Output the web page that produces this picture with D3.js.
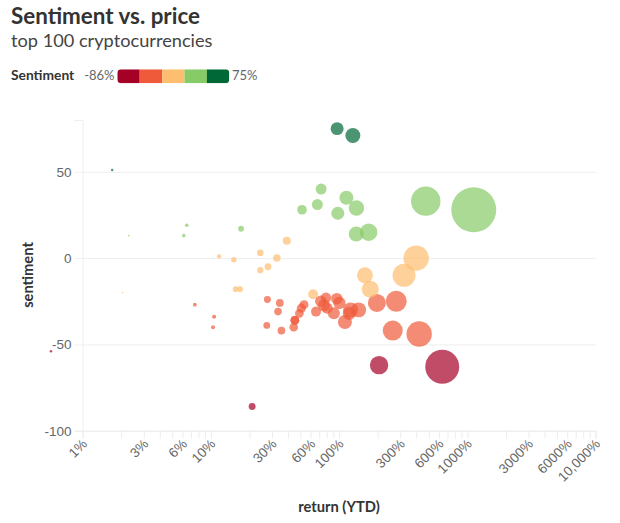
<!DOCTYPE html>
<html>
<head>
<meta charset="utf-8">
<script src="https://cdn.jsdelivr.net/npm/d3@7"></script>
<style>
  body { margin: 0; background: #fff; }
  svg { display: block; font-family: Lato, "Noto Sans", sans-serif; }
</style>
</head>
<body>
<svg id="chart"></svg>
<script>
// values
const returns = [1.7, 2.29, 2.05, 0.567, 6.49, 6.15, 17.2, 11.6, 15.1, 24.3, 32.7, 39.1, 27.9, 24.3, 15.6, 16.9,
  7.5, 10.6, 10.4, 27.6, 34.5, 33.4, 27.3, 35.5, 44.3, 45.1, 45.3, 49, 50.8, 53.3, 66.1, 62.7, 72, 79, 76.4, 80.6,
  91, 96, 100.5, 111, 123, 120, 142, 197, 279, 262, 421, 205, 637, 159, 175, 321, 399, 21,
  96.5, 128, 72.4, 114, 67.7, 51.4, 97.7, 136.5, 136, 170, 474, 1122];
const sentiments = [51, 13, -20, -54, 19, 13, 17, 1, -1, 3, 0, 10, -5, -7, -18, -18,
  -27, -34, -40, -24, -26, -31, -39, -42, -40, -36, -36, -32, -29, -27, -31, -21, -25, -23, -27.5, -29,
  -32, -23.5, -26, -37, -30, -32, -30, -26, -25, -42, -44, -62, -63, -10, -18, -10, 0, -86,
  75, 71, 40, 35, 31, 28, 26, 29, 14, 15, 33, 28];
const marketCaps = [1.5, 0.6, 0.6, 1.5, 3.2, 3.2, 8.4, 4.8, 7.3, 11, 14, 16, 11.6, 10, 8, 8,
  3.6, 4.4, 4, 12.2, 15, 14.4, 11.6, 15, 18, 20, 18, 19, 21, 20, 25, 25, 33, 27, 36, 31,
  36, 33, 38, 49, 56, 42, 56, 81, 110, 100, 161, 85, 289, 64, 72, 132, 161, 12,
  42, 56, 30, 49, 30, 23, 42, 59, 56, 76, 216, 506];

const xTickValues = [1, 2, 3, 4, 5, 6, 7, 8, 9, 10, 20, 30, 40, 50, 60, 70, 80, 90, 100,
  200, 300, 400, 500, 600, 700, 800, 900, 1000, 2000, 3000, 4000, 5000, 6000, 7000, 8000, 9000, 10000];
const xTickLabels = ['1%', '3%', '6%', '10%', '30%', '60%', '100%', '300%', '600%', '1000%', '3000%', '6000%', '10,000%'];
const yTickValues = [50, 0, -50, -100];
const sentimentColors = ['#a50026', '#ef5a3a', '#fdbe70', '#86cb66', '#006837'];
const sentimentRange = [-86, 75];

const width = 620;
const height = 523;
const plotLeft = 82.6;
const plotRight = 595.6;
const plotTop = 120;
const plotBottom = 430.7;

const svg = d3.select('#chart').attr('width', width).attr('height', height);

const x = d3.scaleLog().domain([1, 10000]).range([plotLeft, plotRight]);
const y = d3.scaleLinear().domain([-100, 80]).range([plotBottom, plotTop]);
const r = d3.scaleSqrt().domain([0, 506]).range([0, 22.5]);
const color = d3.scaleQuantize().domain(sentimentRange).range(sentimentColors);

// title
svg.append('text').attr('x', 11).attr('y', 24)
  .attr('font-size', 22.4).attr('font-weight', 700).attr('fill', '#333')
  .text('Sentiment vs. price');
svg.append('text').attr('x', 11).attr('y', 47)
  .attr('font-size', 18.2).attr('fill', '#444')
  .text('top 100 cryptocurrencies');

// legend
svg.append('text').attr('x', 11).attr('y', 80)
  .attr('font-size', 13.8).attr('font-weight', 700).attr('fill', '#333')
  .text('Sentiment');
svg.append('text').attr('x', 114.5).attr('y', 80).attr('text-anchor', 'end')
  .attr('font-size', 13).attr('fill', '#666')
  .text(sentimentRange[0] + '%');
svg.append('text').attr('x', 232).attr('y', 80)
  .attr('font-size', 13).attr('fill', '#666')
  .text(sentimentRange[1] + '%');

const legendX = d3.scaleBand().domain(d3.range(sentimentColors.length)).range([117.3, 229.3]);
svg.append('clipPath').attr('id', 'legend-clip')
  .append('rect')
  .attr('x', 117.3).attr('y', 69.3).attr('width', 112).attr('height', 14).attr('rx', 4);
svg.append('g').attr('clip-path', 'url(#legend-clip)')
  .selectAll('rect')
  .data(sentimentColors)
  .enter()
  .append('rect')
  .attr('x', (d, i) => legendX(i))
  .attr('y', 69.3)
  .attr('width', legendX.bandwidth())
  .attr('height', 14)
  .attr('fill', d => d);

// y axis with grid
const yAxis = svg.append('g')
  .attr('transform', `translate(${plotLeft},0)`)
  .call(d3.axisLeft(y).tickValues(yTickValues).tickSize(8).tickPadding(3).tickFormat(d => String(d)));
yAxis.select('.domain').attr('stroke', '#eee').attr('stroke-width', 1);
yAxis.selectAll('.tick line').attr('stroke', '#eee');
yAxis.selectAll('.tick text').attr('fill', '#666').attr('font-size', 13.5).attr('font-family', 'inherit');
yAxis.selectAll('.tick').append('line')
  .attr('x1', 0).attr('x2', plotRight - plotLeft)
  .attr('stroke', '#eee');

// x axis, only some ticks carry a label
const xAxis = svg.append('g')
  .attr('transform', `translate(0,${plotBottom})`)
  .call(d3.axisBottom(x)
    .tickValues(xTickValues)
    .tickSize(8)
    .tickFormat(d => {
      const label = d3.format(d < 10000 ? '' : ',')(d) + '%';
      return xTickLabels.includes(label) ? label : '';
    }));
xAxis.select('.domain').attr('stroke', '#eee').attr('stroke-width', 1);
xAxis.selectAll('.tick line').attr('stroke', '#eee');
xAxis.selectAll('.tick text')
  .attr('fill', '#666').attr('font-size', 13.5).attr('font-family', 'inherit')
  .attr('text-anchor', 'end')
  .attr('dy', null)
  .attr('y', 0)
  .attr('transform', 'translate(5,14) rotate(-45)');

// axis titles
svg.append('text')
  .attr('transform', `translate(33,275) rotate(-90)`)
  .attr('text-anchor', 'middle')
  .attr('font-size', 14.7).attr('font-weight', 700).attr('fill', '#333')
  .text('sentiment');
svg.append('text')
  .attr('x', 339).attr('y', 512)
  .attr('text-anchor', 'middle')
  .attr('font-size', 14.7).attr('font-weight', 700).attr('fill', '#333')
  .text('return (YTD)');

// bubbles
svg.append('g')
  .selectAll('circle')
  .data(returns.map((d, i) => ({ ret: d, sentiment: sentiments[i], cap: marketCaps[i] })))
  .enter()
  .append('circle')
  .attr('cx', d => x(d.ret))
  .attr('cy', d => y(d.sentiment))
  .attr('r', d => r(d.cap))
  .attr('fill', d => color(d.sentiment))
  .attr('fill-opacity', 0.7);
</script>
</body>
</html>
